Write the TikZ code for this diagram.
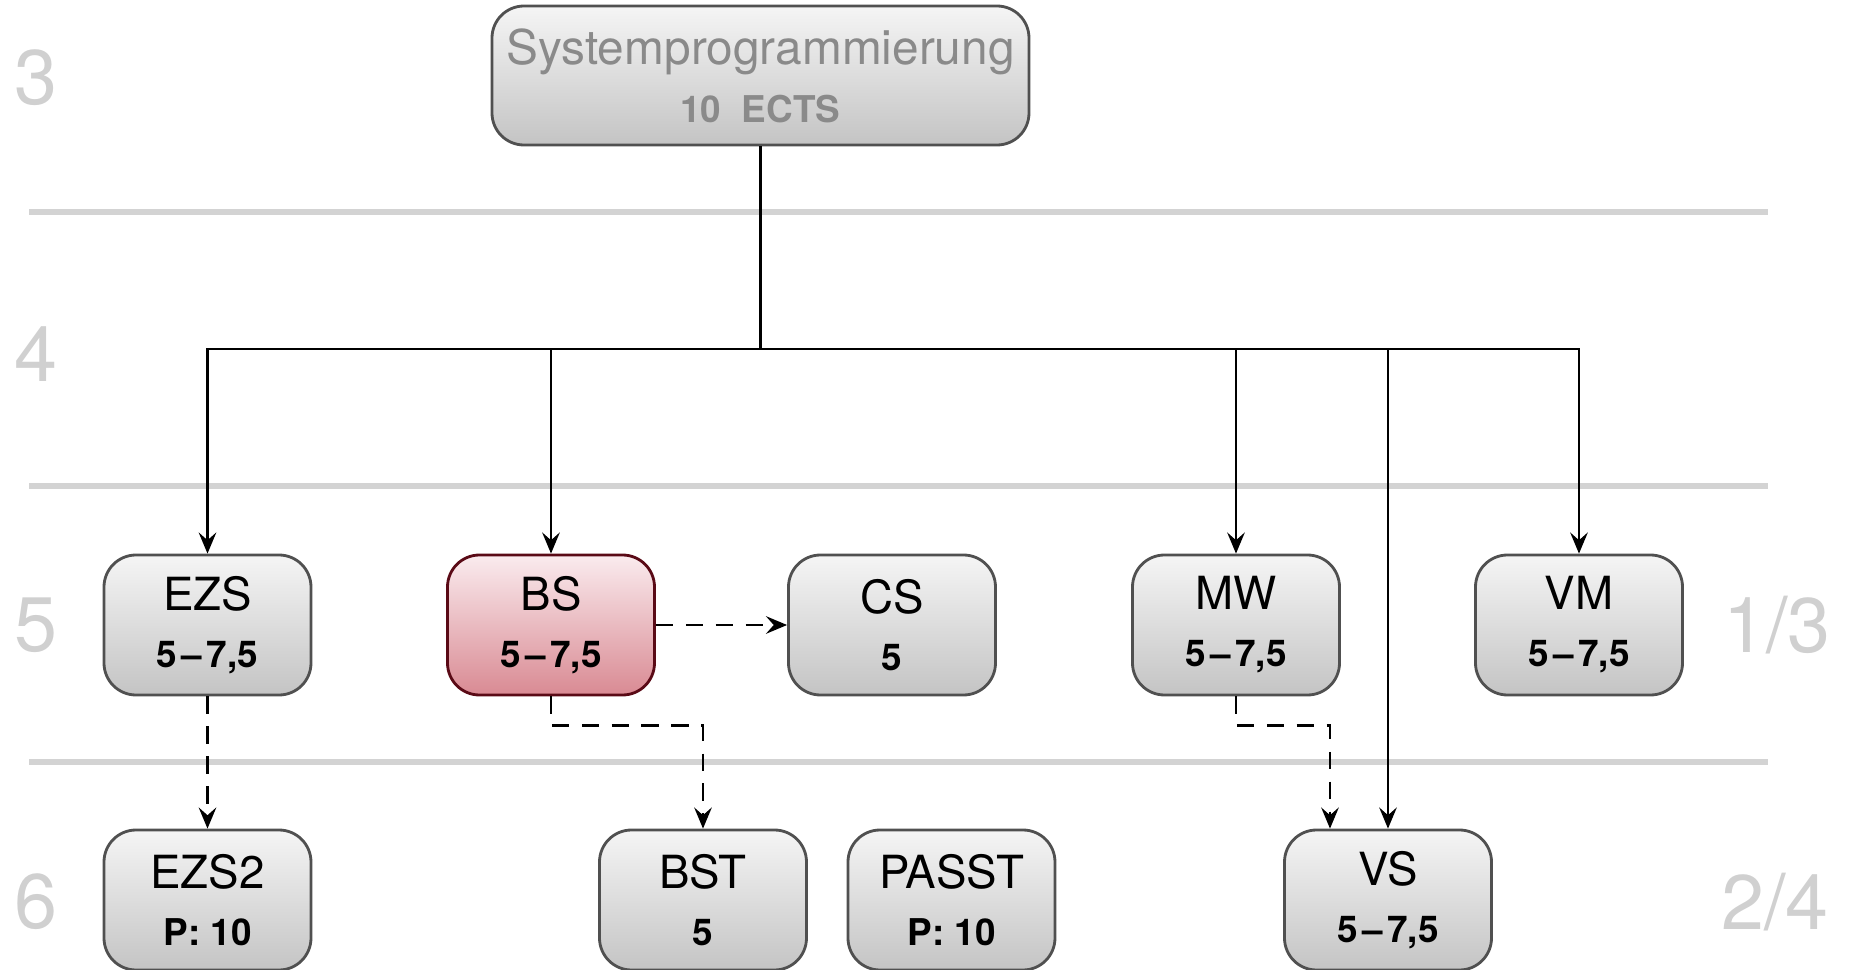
\documentclass[tikz,border=0pt]{standalone}
\usepackage{fontspec}
\setmainfont{TeX Gyre Heros}
\usetikzlibrary{arrows.meta}
\definecolor{boxtop}{HTML}{F5F5F5}
\definecolor{boxbottom}{HTML}{C4C4C4}
\definecolor{boxborder}{HTML}{505050}
\definecolor{bstop}{HTML}{FAEBEE}
\definecolor{bsbottom}{HTML}{D98A93}
\definecolor{bsborder}{HTML}{5A0A16}
\definecolor{sepgray}{HTML}{D3D3D3}
\definecolor{semgray}{HTML}{D0D0D0}
\definecolor{spgray}{HTML}{8A8A8A}
\tikzset{
  modul/.style={draw=boxborder, line width=0.8pt, rounded corners=0.32cm,
    top color=boxtop, bottom color=boxbottom, minimum width=2.07cm,
    minimum height=1.40cm, align=center, inner sep=0pt,
    font=\fontsize{10.5}{16.2}\selectfont},
  aktiv/.style={modul, draw=bsborder, top color=bstop, bottom color=bsbottom},
  sem/.style={text=semgray, font=\fontsize{22}{24}\selectfont},
  sep/.style={draw=sepgray, line width=1.8pt},
  arr/.style={line width=0.75pt, -{Stealth[length=6pt,width=5pt,inset=2.2pt]}},
  dasharr/.style={arr, dash pattern=on 5pt off 3.5pt}
}
\newcommand{\mname}[1]{{\fontsize{13}{15}\selectfont #1}}
\newcommand{\mects}[1]{{\bfseries #1}}
\newcommand{\spanne}{5\kern1.3pt--\kern1.3pt7,5}
\begin{document}
\begin{tikzpicture}
  \useasboundingbox (0,0) rectangle (18.49,-9.70);
  % semester separators
  \draw[sep] (0.295,-2.12) -- (17.68,-2.12);
  \draw[sep] (0.295,-4.86) -- (17.68,-4.86);
  \draw[sep] (0.295,-7.62) -- (17.68,-7.62);
  % semester numbers
  \node[sem] (s3) at (0.36,-0.78) {3};
  \node[sem] (s4) at (0.36,-3.54) {4};
  \node[sem] (s5) at (0.36,-6.25) {5};
  \node[sem] (s6) at (0.36,-9.02) {6};
  \node[sem] (t13) at (17.77,-6.25) {1/3};
  \node[sem] (t24) at (17.75,-9.02) {2/4};
  % modules
  \node[modul, minimum width=5.37cm, minimum height=1.39cm, text=spgray,
    font=\fontsize{10.5}{16.5}\selectfont] (sp) at (7.605,-0.755)
    {{\fontsize{13.6}{16}\selectfont Systemprogrammierung}\\\bfseries 10~~ECTS};
  \node[modul] (ezs) at (2.075,-6.25) {\mname{EZS}\\\mects{\spanne}};
  \node[aktiv] (bs) at (5.51,-6.25) {\mname{BS}\\\mects{\spanne}};
  \node[modul] (cs) at (8.92,-6.25) {\mname{CS}\\\mects{5}};
  \node[modul] (mw) at (12.36,-6.25) {\mname{MW}\\\mects{\spanne}};
  \node[modul] (vm) at (15.79,-6.25) {\mname{VM}\\\mects{\spanne}};
  \node[modul] (ezs2) at (2.075,-9.0) {\mname{EZS2}\\\mects{P: 10}};
  \node[modul] (bst) at (7.03,-9.0) {\mname{BST}\\\mects{5}};
  \node[modul] (passt) at (9.515,-9.0) {\mname{PASST}\\\mects{P: 10}};
  \node[modul] (vs) at (13.88,-9.0) {\mname{VS}\\\mects{\spanne}};
  \coordinate (fork) at (7.605,-3.49);
  \begin{scope}[arr]
    \draw[-] (sp.south) -- (fork);
    \draw (fork) -| (ezs.north);
    \draw (fork) -| (bs.north);
    \draw (fork) -| (mw.north);
    \draw (fork) -| (vm.north);
    \draw (fork) -| (vs.north);
  \end{scope}
  \begin{scope}[dasharr]
    \draw (ezs.south) -- (ezs2.north);
    \draw (bs.east) -- (cs.west);
    \draw (bs.south) -- ++(0,-0.29) -| (bst.north);
    \draw (mw.south) -- ++(0,-0.29) -| ([xshift=-0.58cm]vs.north);
  \end{scope}
\end{tikzpicture}
\end{document}
